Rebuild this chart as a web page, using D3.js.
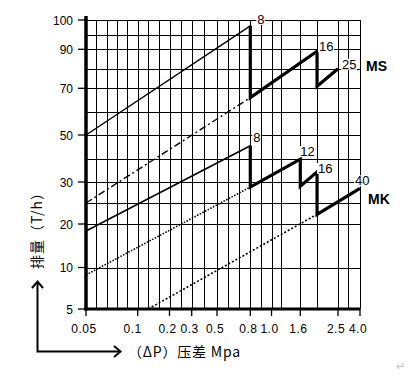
<!DOCTYPE html>
<html>
<head>
<meta charset="utf-8">
<style>
  body { margin: 0; background: #fff; }
  svg { display: block; }
  text { font-family: "Liberation Sans", Arial, sans-serif; fill: #000; }
</style>
</head>
<body>
<svg id="draw"></svg>
<script src="https://cdn.jsdelivr.net/npm/d3@7"></script>
<script>
    var width = 411;
    var height = 377;

    // axis ticks (the printed chart uses an uneven scale)
    var xTicks = [0.05, 0.1, 0.2, 0.3, 0.5, 0.8, 1.0, 1.6, 2.5, 4.0];
    var xTickLabels = ["0.05", "0.1", "0.2", "0.3", "0.5", "0.8", "1.0", "1.6", "2.5", "4.0"];
    var yTicks = [100, 90, 70, 50, 30, 20, 10, 5];
    var xGrid = [0.06, 0.07, 0.08, 0.09, 0.133, 0.166, 0.25, 0.4, 0.6, 0.7, 0.9, 1.2, 2.0, 3.2];
    var yGrid = [95, 80, 60, 40, 25];

    // MS series
    var msThin = [[0.05, 50], [0.8, 98]];
    var msDash = [[0.05, 25], [0.8, 66]];
    var msThick = [[0.8, 98], [0.8, 66], [2.0, 89], [2.0, 71], [2.5, 80]];
    var msSizes = [{x: 0.8, y: 98, t: "8"}, {x: 2.0, y: 89, t: "16"}, {x: 2.5, y: 80, t: "25"}];

    // MK series
    var mkThin = [[0.05, 18.4], [0.8, 45.4]];
    var mkDot1 = [[0.05, 9.1], [0.8, 28.8]];
    var mkDot2 = [[0.133, 5], [2.0, 22.3]];
    var mkThick = [[0.8, 45.4], [0.8, 28.8], [1.6, 39.7], [1.6, 29], [2.0, 34.3], [2.0, 22.3], [4.0, 28.5]];
    var mkSizes = [{x: 0.8, y: 45.4, t: "8"}, {x: 1.6, y: 39.7, t: "12"}, {x: 2.0, y: 34.3, t: "16"}, {x: 4.0, y: 28.5, t: "40"}];

    // piecewise scales matching the printed grid
    var x = d3.scaleLinear()
        .domain(xTicks)
        .range([86, 137.7, 169.5, 191.7, 217, 250.3, 271.5, 300.3, 338, 360]);
    var y = d3.scaleLinear()
        .domain(yTicks)
        .range([20, 49.3, 88.3, 135, 182, 224, 267.5, 309]);

    var line = d3.line().x(d => x(d[0])).y(d => y(d[1]));

    const svg = d3.select("svg#draw")
        .attr("width", width)
        .attr("height", height)
        .attr("viewBox", [0, 0, width, height]);

    // grid
    var grid = svg.append("g").attr("stroke", "#000").attr("stroke-width", 1)
        .attr("shape-rendering", "crispEdges");
    grid.selectAll("line.v")
        .data(xTicks.concat(xGrid))
        .enter().append("line")
        .attr("x1", d => Math.round(x(d)) + 0.5).attr("x2", d => Math.round(x(d)) + 0.5)
        .attr("y1", y(100)).attr("y2", y(5));
    grid.selectAll("line.h")
        .data(yTicks.concat(yGrid))
        .enter().append("line")
        .attr("x1", x(0.05)).attr("x2", x(4.0))
        .attr("y1", d => Math.round(y(d)) + 0.5).attr("y2", d => Math.round(y(d)) + 0.5);

    // ticks
    svg.append("g").selectAll("line")
        .data(yTicks)
        .enter().append("line")
        .attr("x1", x(0.05) - 8).attr("x2", x(0.05))
        .attr("y1", d => y(d)).attr("y2", d => y(d))
        .attr("stroke", "#000").attr("stroke-width", 1.3);
    svg.append("g").selectAll("line")
        .data(xTicks)
        .enter().append("line")
        .attr("x1", d => x(d)).attr("x2", d => x(d))
        .attr("y1", y(5)).attr("y2", y(5) + 7)
        .attr("stroke", "#000").attr("stroke-width", 1.3);

    // tick labels
    svg.append("g").selectAll("text")
        .data(yTicks)
        .enter().append("text")
        .attr("x", 73).attr("y", d => y(d) + 4.5)
        .attr("text-anchor", "end")
        .attr("font-size", 12)
        .text(d => d);
    svg.append("g").selectAll("text")
        .data(xTicks)
        .enter().append("text")
        .attr("x", (d, i) => x(d) - (i == 1 ? 5 : 2))
        .attr("y", 333)
        .attr("text-anchor", "middle")
        .attr("font-size", 12)
        .style("letter-spacing", "0.5px")
        .text((d, i) => xTickLabels[i]);

    // axes (thick)
    svg.append("line")
        .attr("x1", x(0.05)).attr("x2", x(0.05))
        .attr("y1", 16).attr("y2", y(5) + 1.5)
        .attr("stroke", "#000").attr("stroke-width", 3.5);
    svg.append("line")
        .attr("x1", x(0.05) - 1.5).attr("x2", x(4.0))
        .attr("y1", y(5)).attr("y2", y(5))
        .attr("stroke", "#000").attr("stroke-width", 3);

    // series lines
    function drawLine(data, w, dash) {
        svg.append("path")
            .datum(data)
            .attr("fill", "none")
            .attr("stroke", "#000")
            .attr("stroke-width", w)
            .attr("stroke-dasharray", dash)
            .attr("d", line);
    }
    drawLine(msThin, 1.4, null);
    drawLine(msDash, 1.4, "7,3,2,3");
    drawLine(mkThin, 1.6, null);
    drawLine(mkDot1, 1.6, "1.5,1.5");
    drawLine(mkDot2, 1.6, "2,2");
    drawLine(msThick, 3.2, null);
    drawLine(mkThick, 3.2, null);

    // size labels with white backing
    function drawSizes(data, offs) {
        var g = svg.append("g").selectAll("g")
            .data(data)
            .enter().append("g")
            .attr("transform", (d, i) => `translate(${x(d.x) + offs[i][0]},${y(d.y) + offs[i][1]})`);
        g.append("rect")
            .attr("x", -1).attr("y", -10)
            .attr("width", d => d.t.length * 7.5 + 1).attr("height", 11)
            .attr("fill", "#fff");
        g.append("text")
            .attr("font-size", 13)
            .text(d => d.t);
    }
    drawSizes(msSizes, [[7, -2], [2, 0], [4, 0]]);
    drawSizes(mkSizes, [[3, -4], [0, -3], [1, 1], [-5, -3]]);

    // series names
    svg.append("text").attr("x", 366).attr("y", 71)
        .attr("font-size", 14).attr("font-weight", "bold").text("MS");
    svg.append("text").attr("x", 368).attr("y", 204)
        .attr("font-size", 14).attr("font-weight", "bold").text("MK");

    // axis titles
    svg.append("text")
        .attr("transform", "translate(42,227) rotate(-90)")
        .attr("text-anchor", "middle")
        .attr("font-size", 14)
        .style("font-family", "'Noto Sans CJK SC', sans-serif")
        .style("letter-spacing", "1px")
        .text("排量（T/h）");
    svg.append("text")
        .attr("x", 128).attr("y", 357)
        .attr("font-size", 14)
        .style("font-family", "'Noto Sans CJK SC', sans-serif")
        .style("letter-spacing", "0.8px")
        .text("（ΔP）压差 Mpa");

    // corner arrows
    var arrow = svg.append("g").attr("fill", "none").attr("stroke", "#000").attr("stroke-width", 2);
    arrow.append("path").attr("d", "M37.5,282 V351.5 H120");
    arrow.append("path").attr("d", "M32,288 L37.5,281.5 L43,288");
    arrow.append("path").attr("d", "M114,346 L120.5,351.5 L114,357");

    svg.append("text").attr("x", 396).attr("y", 370)
        .attr("font-size", 11).style("fill", "#bbb").text("↵");
</script>
</body>
</html>
